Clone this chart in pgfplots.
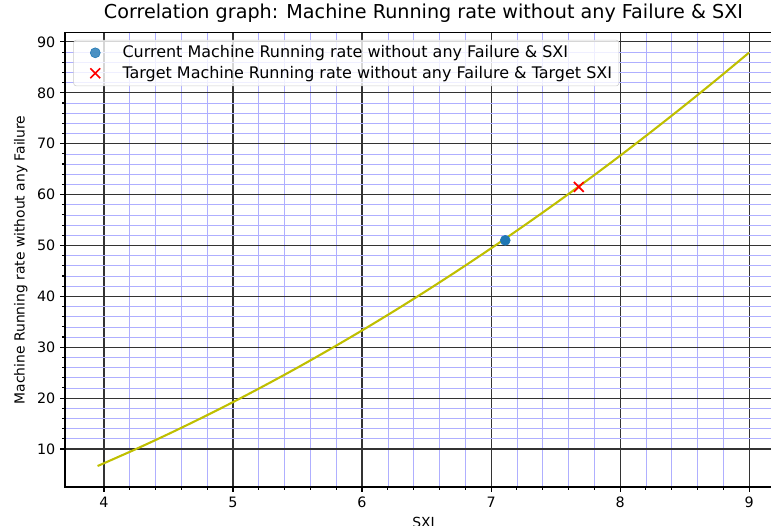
\documentclass[border=0pt]{standalone}
\usepackage{fontspec}
\setmainfont{DejaVu Sans}
\usepackage{pgfplots}
\pgfplotsset{compat=1.18}
\definecolor{mplyellow}{rgb}{0.75,0.75,0}
\definecolor{tabblue}{HTML}{1F77B4}
\definecolor{minorblue}{RGB}{175,175,255}
\pgfplotsset{scatterlegend/.style={legend image code/.code={\path (0pt,0pt) (29pt,0pt); \draw[##1] plot coordinates {(12pt,0pt)};}}}
\begin{document}
\begin{tikzpicture}
\begin{axis}[
  scale only axis, width=516.2pt, height=326.9pt,
  at={(0pt,0pt)}, anchor=south west,
  xmin=3.6975, xmax=9.255, ymin=2.53, ymax=91.77,
  xtick={4,5,6,7,8,9}, ytick={10,20,30,40,50,60,70,80,90},
  minor x tick num=4, minor y tick num=4,
  tick pos=left, tick align=outside,
  major tick length=3.5pt, minor tick length=2pt,
  tick style={black, line width=0.8pt},
  grid=both,
  major grid style={black!80, line width=0.8pt},
  minor grid style={minorblue, line width=0.5pt},
  axis line style={black, line width=0.8pt},
  /pgf/number format/assume math mode=true,
  tick label style={font=\fontsize{10.3}{12}\selectfont},
  title={Correlation graph: Machine Running rate without any Failure \& SXI},
  title style={font=\fontsize{13.8}{16}\selectfont, at={(0.5,1)}, anchor=south, yshift=-2pt},
  xlabel={SXI}, ylabel={Machine Running rate without any Failure},
  label style={font=\fontsize{10}{12}\selectfont},
  legend cell align=left,
  legend style={at={(0,1)}, anchor=north west, xshift=6pt, yshift=-5pt,
    draw=black!20, rounded corners=2pt, fill=white, fill opacity=0.8, text opacity=1,
    font=\fontsize{11.5}{13.5}\selectfont, inner xsep=3pt, inner ysep=2pt, row sep=0.5pt},
]
\addplot[only marks, mark=*, color=tabblue, mark size=3.6pt, scatterlegend]
  coordinates {(7.11,51.0)};
\addlegendentry{Current Machine Running rate without any Failure \& SXI}
\addplot[only marks, mark=x, color=red, mark size=5pt, line width=1.2pt, scatterlegend]
  coordinates {(7.68,61.5)};
\addlegendentry{Target Machine Running rate without any Failure \& Target SXI}
\addplot[mplyellow, line width=1.5pt, smooth, forget plot] coordinates {
(3.95,6.65) (4.00,7.20) (4.25,10.01) (4.50,12.95) (4.75,16.02) (5.00,19.21)
(5.25,22.54) (5.50,25.99) (5.75,29.58) (6.00,33.29) (6.25,37.13) (6.50,41.10)
(6.75,45.20) (7.00,49.43) (7.25,53.79) (7.50,58.27) (7.75,62.89) (8.00,67.63)
(8.25,72.51) (8.50,77.51) (8.75,82.64) (9.00,87.90)
};
\end{axis}
\pgfresetboundingbox
\useasboundingbox (-46.8pt,-28.1pt) rectangle (508.3pt,350.6pt);
\end{tikzpicture}
\end{document}
